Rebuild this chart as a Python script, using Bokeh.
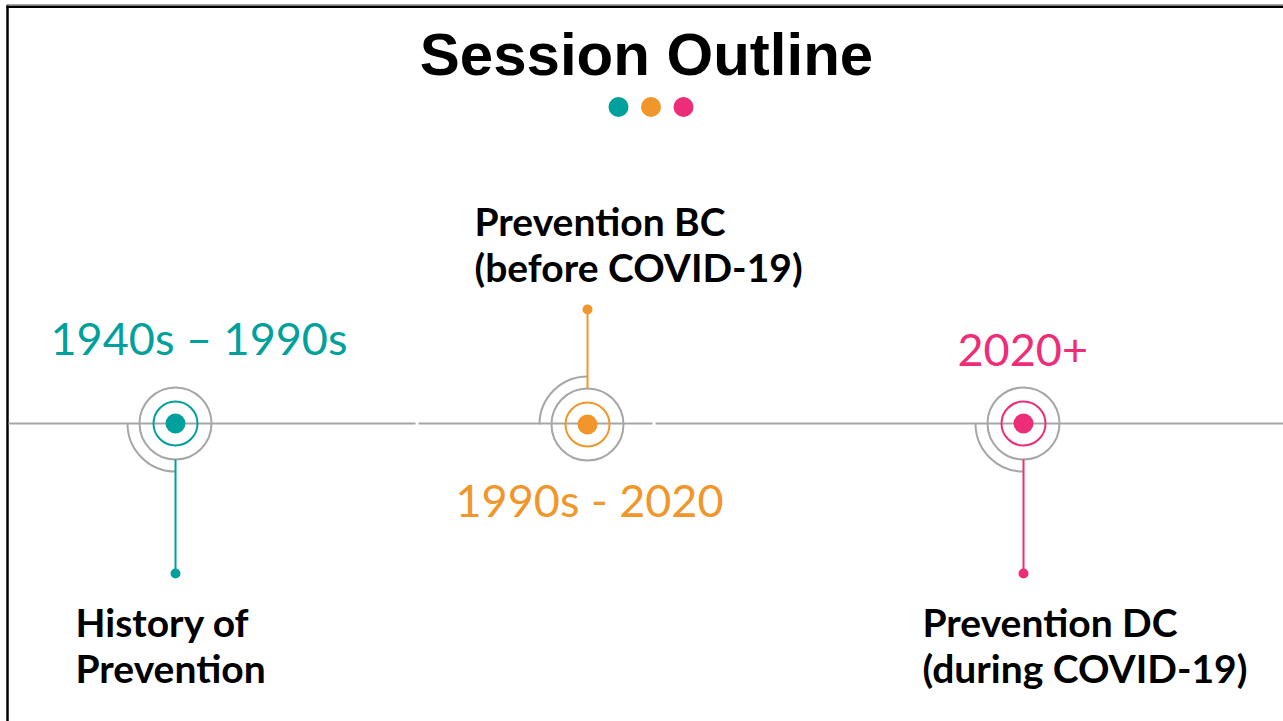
from bokeh.plotting import figure
from bokeh.models import Range1d
from bokeh.core.properties import value
from bokeh.embed import file_html
from bokeh.resources import INLINE

# ---- data ----
title = "Session Outline"
eras = ["1940s \u2013 1990s", "1990s - 2020", "2020+"]
topic_line1 = ["History of", "Prevention BC", "Prevention DC"]
topic_line2 = ["Prevention", "(before COVID-19)", "(during COVID-19)"]
colors = ["#00A19C", "#F0962A", "#EE2D79"]

# ---- layout (image pixel coords; y measured from top) ----
W, H = 1283, 721
IMG_H = 721

def Y(v):
    return IMG_H - v

cx = [175, 587, 1023]
cy = [423, 424, 423]
stem_dir = [1, -1, 1]          # 1 = down, -1 = up
era_xy = [(50, 337), (455, 499), (957, 349)]
topic_xy = [(75, 621), (474, 220), (922, 621)]
line_gap = 46
GRAY = "#A6A6A6"

p = figure(width=W, height=H, output_backend="svg", toolbar_location=None,
           x_range=Range1d(0, W), y_range=Range1d(0, H),
           x_axis_location=None, y_axis_location=None, min_border=0)
p.grid.visible = False
p.outline_line_color = None
p.background_fill_color = "white"
p.border_fill_color = "white"

# frame border (left + top)
p.line([6, 1283], [Y(4), Y(4)], line_color=GRAY, line_width=1)
p.line([7, 7], [Y(5), Y(721)], line_color="black", line_width=2.5)
p.line([6, 1283], [Y(6.3), Y(6.3)], line_color="black", line_width=2.5)

# title
p.text([646], [Y(54)], text=[title], text_font=value("Liberation Sans"),
       text_font_style="bold", text_font_size="60px", text_align="center",
       text_baseline="middle", text_color="black")
# title dots
for i, c in enumerate(colors):
    p.scatter([618 + i * 32.5], [Y(106.5)], size=20, color=c, line_color=None)

# timeline
for a, b in [(8, 415), (418, 652), (655, 1283)]:
    p.line([a, b], [Y(423), Y(423)], line_color=GRAY, line_width=2)

for i in range(3):
    x0, y0 = cx[i], Y(cy[i])
    c = colors[i]
    p.circle([x0], [y0], radius=36, fill_color=None,
             line_color=GRAY, line_width=2)
    p.circle([x0], [y0], radius=22, fill_color=None, line_color=c, line_width=2)
    p.circle([x0], [y0], radius=10, fill_color=c, line_color=None)
    if stem_dir[i] == 1:
        p.arc([x0], [y0], radius=48, start_angle=3.14159265, end_angle=4.71238898,
              line_color=GRAY, line_width=2)
        p.line([x0, x0], [Y(cy[i] + 36), Y(573)], line_color=c, line_width=2)
        p.circle([x0], [Y(573)], radius=5, fill_color=c, line_color=None)
    else:
        p.arc([x0], [y0], radius=48, start_angle=1.57079633, end_angle=3.14159265,
              line_color=GRAY, line_width=2)
        p.line([x0, x0], [Y(cy[i] - 36), Y(309)], line_color=c, line_width=2)
        p.circle([x0], [Y(309)], radius=5, fill_color=c, line_color=None)

    ex, ey = era_xy[i]
    p.text([ex], [Y(ey)], text=[eras[i]], text_font=value("Lato"),
           text_font_size="45px", text_align="left", text_baseline="alphabetic",
           text_color=c)
    tx, ty = topic_xy[i]
    p.text([tx, tx], [Y(ty), Y(ty + line_gap)], text=[topic_line1[i], topic_line2[i]],
           text_font=value("Lato"), text_font_style="bold", text_font_size="39px",
           text_align="left", text_baseline="alphabetic", text_color="black")

open("out.html", "w").write(file_html(p, INLINE))
